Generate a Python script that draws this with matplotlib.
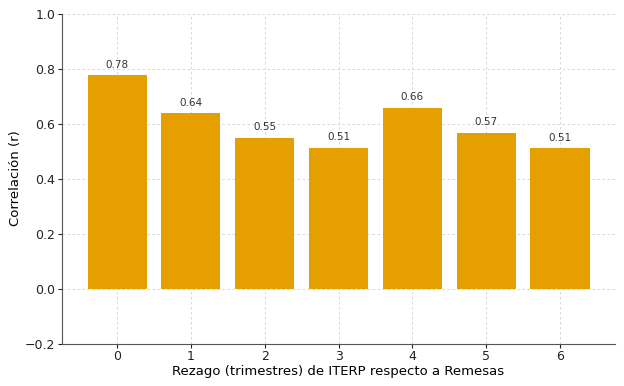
"""Correlación entre ITERP y Remesas por rezago."""

import matplotlib

matplotlib.use("Agg")

from matplotlib import pyplot as plt  # noqa: E402

LAGS = [0, 1, 2, 3, 4, 5, 6]
CORRELATIONS = [0.776, 0.637, 0.548, 0.511, 0.657, 0.566, 0.510]
BAR_COLOR = "#E69F00"

fig, ax = plt.subplots(figsize=(6.24, 3.86), dpi=100)
ax.set_axisbelow(True)
ax.bar(LAGS, CORRELATIONS, color=BAR_COLOR, width=0.8)

for lag, value in zip(LAGS, CORRELATIONS):
    ax.text(lag, value + 0.02, f"{value:.2f}", ha="center", va="bottom",
            fontsize=7.5, color="#333333")

ax.set_ylim(-0.2, 1.0)
ax.set_xticks(LAGS)
ax.set_xlabel("Rezago (trimestres) de ITERP respecto a Remesas", fontsize=9.5,
              labelpad=1)
ax.set_ylabel("Correlación (r)", fontsize=9.5, labelpad=2)
ax.tick_params(labelsize=9, colors="#222222", length=3, pad=2)
ax.grid(True, linestyle=(0, (3, 3)), color="#d0d0d0", linewidth=0.6)
for side in ("top", "right"):
    ax.spines[side].set_visible(False)
for side in ("left", "bottom"):
    ax.spines[side].set_color("#555555")

fig.subplots_adjust(left=0.1, right=0.985, top=0.965, bottom=0.11)
fig.savefig("out.png", dpi=100)
plt.close(fig)
